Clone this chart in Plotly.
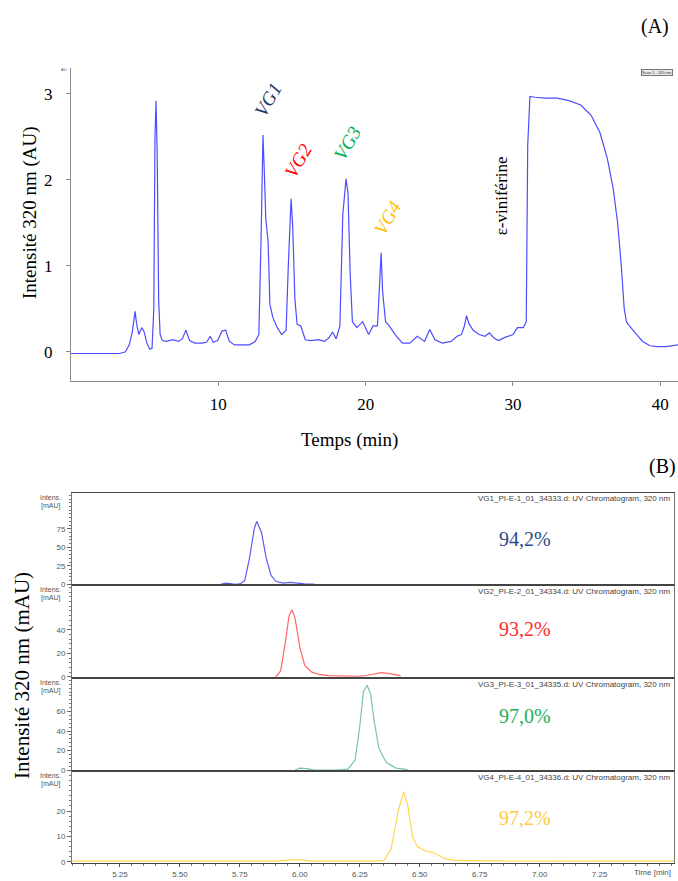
import plotly.graph_objects as go

# ---------------- Data : panel A (full chromatogram, AU) ----------------
time_A = [0, 3.3, 3.7, 3.95, 4.15, 4.35, 4.45, 4.6, 4.8, 4.95,
          5.15, 5.35, 5.5, 5.62, 5.7, 5.77, 5.85, 5.95, 6.05, 6.2,
          6.5, 6.9, 7.3, 7.55, 7.8, 8.05, 8.4, 8.9, 9.2, 9.45,
          9.65, 9.95, 10.25, 10.5, 10.75, 11.1, 11.6, 12.1, 12.5, 12.75,
          12.9, 13.03, 13.12, 13.22, 13.38, 13.5, 13.7, 14.0, 14.3, 14.6,
          14.75, 14.94, 15.05, 15.2, 15.35, 15.6, 15.9, 16.3, 16.8, 17.2,
          17.5, 17.75, 18.0, 18.25, 18.45, 18.67, 18.8, 18.95, 19.1, 19.4,
          19.8, 20.2, 20.5, 20.8, 20.95, 21.05, 21.15, 21.35, 21.6, 22.0,
          22.5, 23.0, 23.5, 24.0, 24.35, 24.7, 25.2, 25.8, 26.2, 26.5,
          26.7, 26.85, 27.0, 27.3, 27.7, 28.1, 28.4, 28.7, 29.0, 29.5,
          30.0, 30.3, 30.7, 30.9, 31.0, 31.15, 31.5, 32.2, 33.0, 33.8,
          34.6, 35.3, 35.9, 36.4, 36.8, 37.1, 37.35, 37.55, 37.7, 37.9,
          38.3, 38.8, 39.3, 39.8, 40.4, 41.2]
intens_A = [-0.02, -0.02, 0.0, 0.08, 0.22, 0.47, 0.33, 0.2, 0.28, 0.24,
            0.1, 0.03, 0.04, 0.5, 2.5, 2.92, 2.3, 0.6, 0.2, 0.13,
            0.12, 0.14, 0.12, 0.15, 0.25, 0.13, 0.1, 0.1, 0.11, 0.18,
            0.11, 0.13, 0.24, 0.25, 0.12, 0.08, 0.08, 0.08, 0.12, 0.2,
            1.3, 2.52, 2.1, 1.55, 1.28, 0.55, 0.4, 0.28, 0.2, 0.25,
            1.0, 1.78, 1.45, 0.6, 0.32, 0.3, 0.14, 0.13, 0.14, 0.12,
            0.16, 0.23, 0.15, 0.3, 1.6, 2.01, 1.85, 0.9, 0.35, 0.28,
            0.35, 0.2, 0.3, 0.3, 0.8, 1.15, 0.7, 0.35, 0.3, 0.2,
            0.1, 0.1, 0.18, 0.12, 0.26, 0.14, 0.1, 0.12, 0.18, 0.2,
            0.3, 0.42, 0.33, 0.25, 0.2, 0.18, 0.22, 0.16, 0.13, 0.17,
            0.2, 0.28, 0.28, 0.35, 2.4, 2.97, 2.96, 2.95, 2.95, 2.92,
            2.87, 2.75, 2.55, 2.25, 1.9, 1.5, 1.0, 0.5, 0.35, 0.3,
            0.22, 0.12, 0.07, 0.06, 0.06, 0.08]
assert len(time_A) == len(intens_A)

ticks_A_x = [10, 20, 30, 40]
ticks_A_y = [0, 1, 2, 3]

peak_labels = ["VG1", "VG2", "VG3", "VG4"]
peak_label_time = [13.4, 15.4, 18.8, 21.5]
peak_label_val = [2.93, 2.23, 2.43, 1.56]
peak_colors = ["#1f3864", "#ff0000", "#00b050", "#ffc000"]

# ---------------- Data : panel B (purity chromatograms, mAU) ----------------
t_vg1 = [5.67, 5.69, 5.71, 5.73, 5.75, 5.77, 5.79, 5.81, 5.82, 5.84,
         5.86, 5.88, 5.90, 5.93, 5.96, 5.99, 6.02, 6.06]
i_vg1 = [0, 1.5, 1, 0, 0.5, 5, 35, 75, 85, 70,
         35, 12, 4, 1.5, 2.5, 1, 0.5, 0.3]
t_vg2 = [5.90, 5.92, 5.94, 5.955, 5.967, 5.98, 6.00, 6.02, 6.05, 6.08,
         6.12, 6.25, 6.30, 6.34, 6.38, 6.42]
i_vg2 = [0, 5, 30, 52, 57, 50, 25, 10, 4, 2,
         1, 0.5, 2, 3.5, 2.5, 1]
t_vg3 = [5.98, 6.00, 6.03, 6.06, 6.15, 6.20, 6.23, 6.25, 6.265, 6.28,
         6.295, 6.31, 6.33, 6.36, 6.40, 6.45]
i_vg3 = [0, 2, 1.5, 0, 0, 1, 10, 45, 80, 87,
         78, 50, 22, 8, 2, 0.5]
t_vg4 = [5.05, 5.3, 5.6, 5.9, 5.96, 6.0, 6.05, 6.3, 6.35, 6.38,
         6.41, 6.433, 6.45, 6.47, 6.49, 6.52, 6.56, 6.60, 6.64, 6.8,
         7.1, 7.3, 7.4, 7.56]
i_vg4 = [0.3, 0.4, 0.3, 0.3, 0.8, 0.8, 0.3, 0.3, 0.6, 5,
         20, 27.5, 22, 10, 6, 4.5, 3.5, 1.5, 0.6, 0.4,
         0.3, 0.5, 0.3, 0.3]

purity = ["94,2%", "93,2%", "97,0%", "97,2%"]
headers = ["VG1_PI-E-1_01_34333.d: UV Chromatogram, 320 nm",
           "VG2_PI-E-2_01_34334.d: UV Chromatogram, 320 nm",
           "VG3_PI-E-3_01_34335.d: UV Chromatogram, 320 nm",
           "VG4_PI-E-4_01_34336.d: UV Chromatogram, 320 nm"]
ticks_B_x = [5.25, 5.50, 5.75, 6.00, 6.25, 6.50, 6.75, 7.00, 7.25]
ticks_B_y = [[0, 25, 50, 75], [0, 20, 40], [0, 20, 40, 60], [0, 10, 20]]
trace_colors_B = ["#5c5cf2", "#ff6666", "#7cc4a0", "#ffd54f"]
text_colors_B = ["#2f4a86", "#ff2a2a", "#22b05a", "#ffc83d"]

# ---------------- Layout helpers (page pixels -> paper) ----------------
W, H = 678, 881
def px(x):
    return x / W
def py(y):
    return 1 - y / H

SERIF = "Liberation Serif, Times New Roman, serif"
SANS = "Liberation Sans, Arial, sans-serif"

fig = go.Figure()

fig.add_trace(go.Scatter(x=time_A, y=intens_A, mode="lines",
                         line=dict(color="#4d4dff", width=1.2),
                         xaxis="x", yaxis="y", showlegend=False, hoverinfo="skip"))

series_B = [(t_vg1, i_vg1), (t_vg2, i_vg2), (t_vg3, i_vg3), (t_vg4, i_vg4)]
for k, (tt, ii) in enumerate(series_B):
    fig.add_trace(go.Scatter(x=tt, y=ii, mode="lines",
                             line=dict(color=trace_colors_B[k], width=1.2),
                             xaxis=f"x{k+2}", yaxis=f"y{k+2}", showlegend=False,
                             hoverinfo="skip"))

layout = dict(
    width=W, height=H, autosize=False,
    margin=dict(l=0, r=0, t=0, b=0, autoexpand=False),
    paper_bgcolor="white", plot_bgcolor="white",
    showlegend=False,
    xaxis=dict(domain=[px(71), 1], range=[0, 41.2], anchor="y", automargin=False,
               showline=True, linecolor="#8a8a8a", linewidth=1,
               ticks="outside", ticklen=4, tickcolor="#8a8a8a",
               tickvals=ticks_A_x, tickfont=dict(family=SERIF, size=17, color="black"),
               showgrid=False, zeroline=False, ticklabelstandoff=4),
    yaxis=dict(domain=[py(381), py(68)], range=[-0.34, 3.30], anchor="x", automargin=False,
               showline=True, linecolor="#8a8a8a", linewidth=1,
               ticks="outside", ticklen=4, tickcolor="#8a8a8a",
               tickvals=ticks_A_y, tickfont=dict(family=SERIF, size=17, color="black"),
               showgrid=False, zeroline=False, ticklabelstandoff=10),
)

tops = [493, 585, 678, 771]
bots = [585, 678, 771, 863]
yranges = [[-1, 123.3], [-1, 78.1], [-1, 94.4], [-0.4, 35.7]]
minor_dt = [5, 4, 4, 2]

for k in range(4):
    xa = f"xaxis{k+2}"
    ya = f"yaxis{k+2}"
    last = (k == 3)
    layout[xa] = dict(domain=[px(72), px(674)], range=[5.05, 7.56], anchor=f"y{k+2}",
                      automargin=False,
                      showline=True, mirror=True, linecolor="#444", linewidth=1,
                      showgrid=False, zeroline=False,
                      tickvals=ticks_B_x, ticktext=[f"{v:.2f}" for v in ticks_B_x],
                      showticklabels=last, ticks="outside" if last else "",
                      ticklen=3, tickcolor="#555", ticklabelstandoff=0,
                      tickfont=dict(family=SANS, size=8, color="#555"),
                      minor=dict(ticks="outside", dtick=0.05, ticklen=2, tickcolor="#777") if last else dict(ticks=""))
    layout[ya] = dict(domain=[py(bots[k]), py(tops[k])], range=yranges[k], anchor=f"x{k+2}",
                      automargin=False,
                      showline=True, mirror=True, linecolor="#777", linewidth=1,
                      showgrid=False, zeroline=False,
                      tickvals=ticks_B_y[k], ticks="outside", ticklen=4, tickcolor="#666",
                      tickfont=dict(family=SANS, size=8, color="#555"),
                      minor=dict(ticks="outside", dtick=minor_dt[k], ticklen=2, tickcolor="#777"))

fig.update_layout(**layout)

ann = []
def note(x, y, text, font, xanchor="center", **kw):
    ann.append(dict(x=px(x), y=py(y), xref="paper", yref="paper", text=text,
                    xanchor=xanchor, yanchor="middle", showarrow=False, font=font, **kw))

note(655, 27, "(A)", dict(family=SERIF, size=20, color="black"))
note(662, 467, "(B)", dict(family=SERIF, size=20, color="black"))
note(30, 213, "Intensité 320 nm (AU)", dict(family=SERIF, size=19, color="black"), textangle=-90)
note(350, 440, "Temps (min)", dict(family=SERIF, size=19, color="black"))
note(22, 676, "Intensité 320 nm (mAU)", dict(family=SERIF, size=21, color="black"), textangle=-90)
note(64, 70, "AU", dict(family=SANS, size=4, color="#555"))
note(657, 72, "Scan 1 - 320 nm", dict(family=SANS, size=4, color="#333"),
     bgcolor="#e8e8e8", bordercolor="#777", borderwidth=1, borderpad=0)

for k in range(4):
    ann.append(dict(x=peak_label_time[k], y=peak_label_val[k], xref="x", yref="y",
                    text=f"<i>{peak_labels[k]}</i>", textangle=-60, showarrow=False,
                    xanchor="center", yanchor="middle",
                    font=dict(family=SERIF, size=19, color=peak_colors[k])))
ann.append(dict(x=29.2, y=1.81, xref="x", yref="y", text="ε-viniférine",
                textangle=-90, showarrow=False, xanchor="center", yanchor="middle",
                font=dict(family=SERIF, size=17, color="black")))

purity_y = [539, 629, 716, 818]
for k in range(4):
    note(672, tops[k] + 6, headers[k], dict(family=SANS, size=8, color="#444"), xanchor="right")
    note(63, tops[k] + 4, "Intens.", dict(family=SANS, size=7, color="#555"), xanchor="right")
    note(63, tops[k] + 13, "[mAU]", dict(family=SANS, size=7, color="#555"), xanchor="right")
    note(525, purity_y[k], purity[k], dict(family=SERIF, size=20, color=text_colors_B[k]))
note(652, 872, "Time [min]", dict(family=SANS, size=8, color="#555"))

fig.update_layout(annotations=ann)
fig.write_html("out.html", config={"displayModeBar": False},
               post_script="document.body.style.margin='0';document.body.style.overflow='hidden';")
